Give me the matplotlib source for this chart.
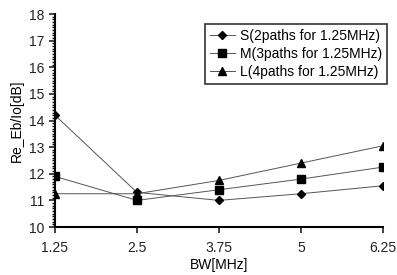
import matplotlib
matplotlib.use("Agg")
import matplotlib.pyplot as plt
from matplotlib.ticker import MultipleLocator

bw = [1.25, 2.5, 3.75, 5, 6.25]
s_vals = [14.2, 11.3, 11.0, 11.25, 11.55]
m_vals = [11.9, 11.0, 11.4, 11.8, 12.25]
l_vals = [11.25, 11.25, 11.75, 12.4, 13.05]
labels = ["S(2paths for 1.25MHz)", "M(3paths for 1.25MHz)", "L(4paths for 1.25MHz)"]

plt.rcParams["font.family"] = "Liberation Sans"

fig = plt.figure(figsize=(3.97, 2.75), dpi=100)
ax = fig.add_axes([0.1385, 0.1745, 0.826, 0.7745])

ax.plot(bw, s_vals, color="#555555", lw=0.7, marker="D", ms=4.5, mfc="black", mec="black", label=labels[0])
ax.plot(bw, m_vals, color="#555555", lw=0.7, marker="s", ms=5.5, mfc="black", mec="black", label=labels[1])
ax.plot(bw, l_vals, color="#555555", lw=0.7, marker="^", ms=5.5, mfc="black", mec="black", label=labels[2])

ax.set_xlim(1.25, 6.25)
ax.set_ylim(10, 18)
ax.set_xticks(bw)
ax.set_xticklabels(["1.25", "2.5", "3.75", "5", "6.25"])
ax.yaxis.set_major_locator(MultipleLocator(1))
ax.yaxis.set_minor_locator(MultipleLocator(0.1))
ax.tick_params(axis="both", labelsize=10, width=1.2, length=4, direction="out", colors="#222222")
ax.tick_params(axis="x", pad=6)
ax.tick_params(axis="y", which="minor", length=2.5, width=1)
ax.spines["top"].set_visible(False)
ax.spines["right"].set_visible(False)
ax.spines["left"].set_linewidth(1.5)
ax.spines["bottom"].set_linewidth(1.5)

ax.set_xlabel("BW[MHz]", fontsize=10, labelpad=2)
ax.set_ylabel("Re_Eb/Io[dB]", fontsize=10, labelpad=4)

leg = ax.legend(loc="upper right", bbox_to_anchor=(1.035, 0.985), fontsize=10, frameon=True,
                fancybox=False, edgecolor="black", handlelength=1.8, borderpad=0.35,
                labelspacing=0.3, handletextpad=0.4)
leg.get_frame().set_linewidth(1.2)

fig.savefig("out.png", dpi=100)
